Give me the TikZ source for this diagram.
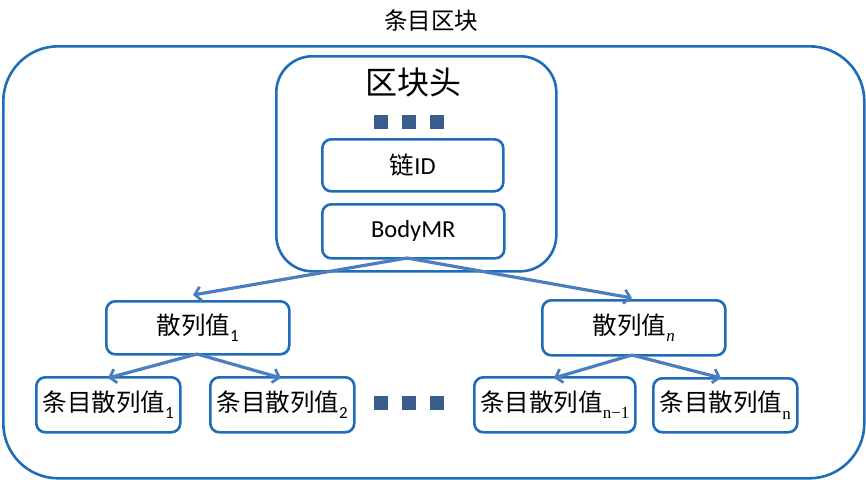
\documentclass[tikz,border=0pt]{standalone}
\usepackage{fontspec}
\setmainfont{Carlito}
\newfontfamily\cjk{Noto Sans CJK SC}
\newfontfamily\serifsub{Liberation Serif}
\usetikzlibrary{arrows.meta}
\definecolor{boxblue}{HTML}{1F6DB8}
\definecolor{arrblue}{HTML}{4A7EBF}
\definecolor{sqblue}{HTML}{3A5D8E}
\newcommand{\mysub}[1]{\raisebox{-0.3em}{\fontsize{17}{17}\selectfont #1}}
\newcommand{\mysubs}[1]{\raisebox{-0.3em}{\fontsize{17}{17}\selectfont\serifsub #1}}
\tikzset{
  x=1pt,y=-1pt,
  rbox/.style={draw=boxblue,line width=2.6pt,rounded corners=9pt,inner sep=0pt,anchor=north west},
  conn/.style={draw=arrblue,line width=3.2pt,-{Straight Barb[length=6pt,width=14pt,line width=2.8pt]}},
  sq/.style={fill=sqblue,minimum size=14pt,inner sep=0pt},
  lbl/.style={font=\fontsize{24.5}{27}\selectfont}
}
\begin{document}
\begin{tikzpicture}
\useasboundingbox (0,0) rectangle (866,479);
% outer block
\node[rbox,rounded corners=55pt,minimum width=861pt,minimum height=432pt] (outer) at (2,45) {};
\node[font=\fontsize{23.5}{26}\selectfont\cjk] (title) at (431,21) {条目区块};
% header
\node[rbox,rounded corners=36pt,minimum width=280pt,minimum height=215pt] (hdr) at (275,55) {};
\node[font=\fontsize{32}{34}\selectfont\cjk] (hdrt) at (413,83) {区块头};
\node[sq] (s1) at (381,122) {};
\node[sq] (s2) at (409,122) {};
\node[sq] (s3) at (437,122) {};
\node[rbox,minimum width=181pt,minimum height=52pt] (chain) at (321,138) {};
\node[lbl] at (chain.center) {{\cjk 链}ID};
\node[rbox,minimum width=182pt,minimum height=54pt] (body) at (321,203) {};
\node[lbl] at (body.center) {BodyMR};
% hash level
\node[rbox,minimum width=183pt,minimum height=53pt] (h1) at (105,300) {};
\node[lbl] at (h1.center) {{\cjk 散列值}\mysub{1}};
\node[rbox,minimum width=183pt,minimum height=55pt] (hn) at (541,299) {};
\node[lbl] at (hn.center) {{\cjk 散列值}\mysubs{\itshape n}};
% leaves
\node[rbox,minimum width=144pt,minimum height=55pt] (l1) at (35,376) {};
\node[lbl] at (l1.center) {{\cjk 条目散列值}\mysub{1}};
\node[rbox,minimum width=144pt,minimum height=55pt] (l2) at (209,376) {};
\node[lbl] at (l2.center) {{\cjk 条目散列值}\mysub{2}};
\node[rbox,minimum width=161pt,minimum height=55pt] (l3) at (473,376) {};
\node[lbl] at (l3.center) {{\cjk 条目散列值}\mysubs{n\textminus 1}};
\node[rbox,minimum width=144pt,minimum height=54pt] (l4) at (652,377) {};
\node[lbl] at (l4.center) {{\cjk 条目散列值}\mysubs{n}};
\node[sq] (d1) at (381,403) {};
\node[sq] (d2) at (409,403) {};
\node[sq] (d3) at (437,403) {};
% connectors
\coordinate (bodyb) at (407,258);
\coordinate (h1t) at (193,295);
\coordinate (hnt) at (632,298);
\draw[conn] (bodyb) -- (h1t);
\draw[conn] (bodyb) -- (hnt);
\coordinate (h1b) at (197,354);
\coordinate (l1t) at (108,378);
\coordinate (l2t) at (281,378);
\draw[conn] (h1b) -- (l1t);
\draw[conn] (h1b) -- (l2t);
\coordinate (hnb) at (632,355);
\coordinate (l3t) at (554,378);
\coordinate (l4t) at (721,378);
\draw[conn] (hnb) -- (l3t);
\draw[conn] (hnb) -- (l4t);
\end{tikzpicture}
\end{document}
